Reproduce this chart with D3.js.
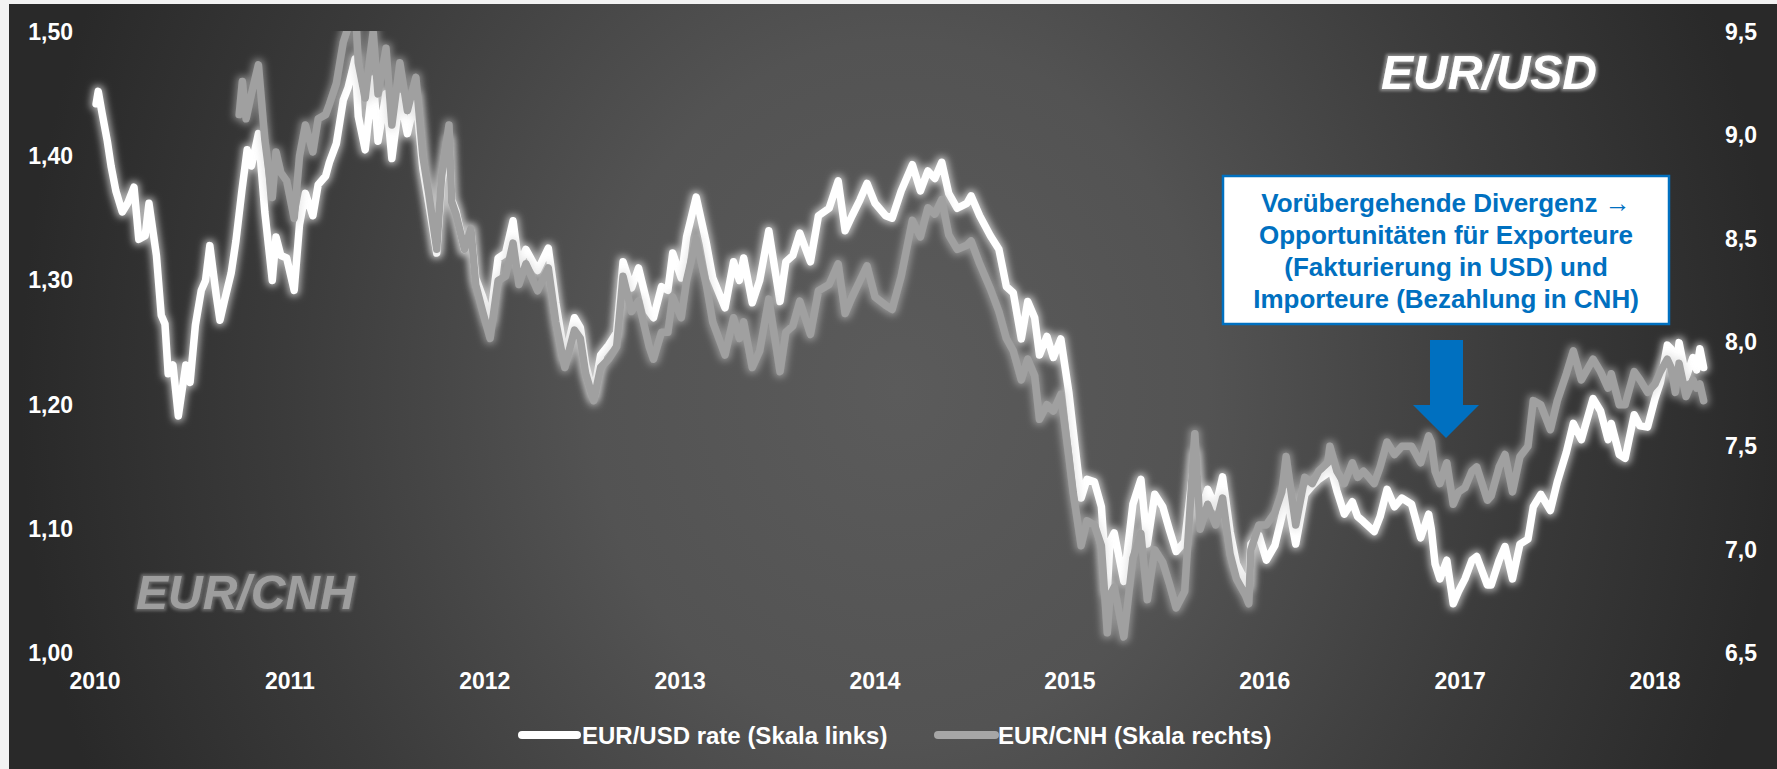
<!DOCTYPE html>
<html><head><meta charset="utf-8">
<script src="https://cdn.jsdelivr.net/npm/d3@7"></script>
<style>
html,body{margin:0;padding:0;background:#f2f2f2;}
svg{display:block;font-family:"Liberation Sans",Arial,sans-serif;}
</style></head>
<body>
<svg id="c" width="1777" height="769"></svg>
<script>
// ---------- DATA ----------
const years = [2010,2011,2012,2013,2014,2015,2016,2017,2018];
const leftTicks = [1.00,1.10,1.20,1.30,1.40,1.50];
const rightTicks = [6.5,7.0,7.5,8.0,8.5,9.0,9.5];
const seriesNames = ["EUR/USD rate (Skala links)","EUR/CNH (Skala rechts)"];
const annotationLines = ["Vorübergehende Divergenz →","Opportunitäten für Exporteure","(Fakturierung in USD) und","Importeure (Bezahlung in CNH)"];

const eurUsd = [
["2010-01-04",1.442],["2010-01-08",1.452],["2010-01-15",1.435],["2010-01-25",1.412],["2010-02-01",1.392],["2010-02-10",1.372],["2010-02-22",1.355],["2010-03-04",1.362],["2010-03-16",1.375],["2010-03-25",1.333],["2010-04-06",1.336],["2010-04-13",1.362],["2010-04-27",1.320],["2010-05-06",1.272],["2010-05-13",1.265],["2010-05-19",1.225],["2010-05-28",1.232],["2010-06-07",1.191],["2010-06-21",1.232],["2010-06-29",1.218],["2010-07-09",1.264],["2010-07-20",1.292],["2010-07-28",1.300],["2010-08-05",1.328],["2010-08-17",1.288],["2010-08-24",1.268],["2010-09-01",1.283],["2010-09-14",1.306],["2010-09-23",1.332],["2010-10-04",1.372],["2010-10-14",1.405],["2010-10-22",1.392],["2010-11-04",1.418],["2010-11-16",1.355],["2010-11-30",1.300],["2010-12-07",1.335],["2010-12-16",1.320],["2010-12-27",1.318],
["2011-01-10",1.292],["2011-01-20",1.345],["2011-01-31",1.370],["2011-02-14",1.352],["2011-02-24",1.377],["2011-03-10",1.384],["2011-03-17",1.395],["2011-03-30",1.410],["2011-04-12",1.445],["2011-04-21",1.455],["2011-05-04",1.478],["2011-05-10",1.432],["2011-05-23",1.405],["2011-06-01",1.440],["2011-06-07",1.462],["2011-06-16",1.412],["2011-07-01",1.450],["2011-07-12",1.398],["2011-07-27",1.448],["2011-08-10",1.418],["2011-08-26",1.448],["2011-09-08",1.390],["2011-09-19",1.362],["2011-10-04",1.322],["2011-10-13",1.378],["2011-10-27",1.412],["2011-11-01",1.365],["2011-11-09",1.356],["2011-11-25",1.325],["2011-12-07",1.340],["2011-12-16",1.302],["2011-12-29",1.287],
["2012-01-12",1.268],["2012-01-27",1.318],["2012-02-10",1.322],["2012-02-24",1.348],["2012-03-06",1.312],["2012-03-19",1.325],["2012-04-10",1.308],["2012-04-30",1.326],["2012-05-14",1.282],["2012-05-31",1.238],["2012-06-18",1.270],["2012-06-29",1.262],["2012-07-09",1.232],["2012-07-24",1.208],["2012-08-06",1.240],["2012-08-21",1.248],["2012-09-05",1.258],["2012-09-17",1.315],["2012-10-03",1.294],["2012-10-16",1.310],["2012-11-05",1.275],["2012-11-13",1.270],["2012-11-28",1.295],["2012-12-10",1.292],["2012-12-19",1.322],
["2013-01-04",1.302],["2013-01-14",1.335],["2013-02-01",1.367],["2013-02-20",1.330],["2013-03-04",1.302],["2013-03-27",1.278],["2013-04-12",1.315],["2013-04-23",1.300],["2013-05-01",1.318],["2013-05-17",1.282],["2013-05-31",1.300],["2013-06-17",1.340],["2013-07-08",1.283],["2013-07-19",1.315],["2013-08-01",1.320],["2013-08-14",1.338],["2013-09-03",1.315],["2013-09-18",1.352],["2013-10-08",1.358],["2013-10-25",1.380],["2013-11-07",1.340],["2013-11-20",1.352],["2013-12-05",1.365],["2013-12-18",1.378],
["2014-01-02",1.362],["2014-01-22",1.352],["2014-02-03",1.350],["2014-02-20",1.372],["2014-03-13",1.393],["2014-03-28",1.372],["2014-04-11",1.388],["2014-04-24",1.382],["2014-05-07",1.395],["2014-05-20",1.370],["2014-06-05",1.358],["2014-06-23",1.362],["2014-07-01",1.368],["2014-07-17",1.352],["2014-08-06",1.336],["2014-08-22",1.325],["2014-09-05",1.295],["2014-09-18",1.290],["2014-10-03",1.253],["2014-10-15",1.283],["2014-10-28",1.270],["2014-11-06",1.240],["2014-11-20",1.255],["2014-12-02",1.238],["2014-12-16",1.253],["2014-12-31",1.210],
["2015-01-08",1.180],["2015-01-23",1.125],["2015-02-03",1.140],["2015-02-17",1.138],["2015-03-02",1.118],["2015-03-13",1.050],["2015-03-18",1.090],["2015-03-26",1.097],["2015-04-13",1.058],["2015-04-30",1.120],["2015-05-15",1.140],["2015-05-27",1.088],["2015-06-10",1.128],["2015-06-25",1.118],["2015-07-07",1.100],["2015-07-20",1.082],["2015-08-05",1.090],["2015-08-24",1.160],["2015-09-03",1.112],["2015-09-17",1.132],["2015-10-02",1.118],["2015-10-15",1.142],["2015-10-29",1.098],["2015-11-10",1.072],["2015-11-27",1.058],["2015-12-03",1.055],["2015-12-07",1.088],["2015-12-22",1.095],
["2016-01-05",1.075],["2016-01-21",1.087],["2016-02-03",1.110],["2016-02-11",1.130],["2016-02-29",1.088],["2016-03-17",1.128],["2016-03-31",1.135],["2016-04-12",1.140],["2016-04-29",1.145],["2016-05-03",1.152],["2016-05-16",1.131],["2016-05-30",1.112],["2016-06-14",1.122],["2016-06-24",1.110],["2016-07-05",1.106],["2016-07-25",1.098],["2016-08-05",1.110],["2016-08-18",1.132],["2016-09-01",1.118],["2016-09-15",1.125],["2016-10-03",1.120],["2016-10-20",1.093],["2016-11-04",1.112],["2016-11-09",1.100],["2016-11-16",1.072],["2016-11-25",1.060],["2016-12-08",1.075],["2016-12-20",1.040],["2016-12-30",1.050],
["2017-01-11",1.060],["2017-01-24",1.075],["2017-02-02",1.078],["2017-02-22",1.055],["2017-03-01",1.055],["2017-03-16",1.075],["2017-03-27",1.086],["2017-04-10",1.060],["2017-04-24",1.088],["2017-05-09",1.092],["2017-05-19",1.118],["2017-06-02",1.128],["2017-06-20",1.115],["2017-07-03",1.138],["2017-07-20",1.162],["2017-08-02",1.185],["2017-08-17",1.172],["2017-09-08",1.205],["2017-09-22",1.195],["2017-10-06",1.172],["2017-10-12",1.185],["2017-10-27",1.160],["2017-11-07",1.157],["2017-11-24",1.192],["2017-12-05",1.183],["2017-12-19",1.182],
["2018-01-02",1.205],["2018-01-12",1.218],["2018-01-25",1.248],["2018-02-01",1.245],["2018-02-09",1.225],["2018-02-16",1.250],["2018-03-01",1.222],["2018-03-14",1.238],["2018-03-21",1.228],["2018-03-27",1.245],["2018-04-03",1.230]
];

const eurCnh = [
["2010-09-29",9.10],["2010-10-05",9.26],["2010-10-12",9.08],["2010-10-22",9.20],["2010-11-04",9.34],["2010-11-16",8.98],["2010-11-30",8.70],["2010-12-07",8.92],["2010-12-16",8.82],["2010-12-27",8.78],
["2011-01-10",8.60],["2011-01-20",8.90],["2011-01-31",9.05],["2011-02-14",8.92],["2011-02-24",9.08],["2011-03-10",9.10],["2011-03-17",9.15],["2011-03-30",9.25],["2011-04-12",9.45],["2011-04-21",9.52],["2011-05-04",9.65],["2011-05-10",9.35],["2011-05-23",9.18],["2011-06-01",9.38],["2011-06-07",9.50],["2011-06-16",9.20],["2011-07-01",9.42],["2011-07-12",9.05],["2011-07-27",9.35],["2011-08-10",9.12],["2011-08-26",9.28],["2011-09-08",8.90],["2011-09-19",8.72],["2011-10-04",8.45],["2011-10-13",8.80],["2011-10-27",9.05],["2011-11-01",8.68],["2011-11-09",8.62],["2011-11-25",8.45],["2011-12-07",8.55],["2011-12-16",8.28],["2011-12-29",8.15],
["2012-01-12",8.02],["2012-01-27",8.30],["2012-02-10",8.32],["2012-02-24",8.48],["2012-03-06",8.28],["2012-03-19",8.38],["2012-04-10",8.25],["2012-04-30",8.36],["2012-05-14",8.10],["2012-05-31",7.88],["2012-06-18",8.06],["2012-06-29",8.02],["2012-07-09",7.85],["2012-07-24",7.72],["2012-08-06",7.88],["2012-08-21",7.92],["2012-09-05",7.98],["2012-09-17",8.32],["2012-10-03",8.15],["2012-10-16",8.20],["2012-11-05",7.98],["2012-11-13",7.92],["2012-11-28",8.05],["2012-12-10",8.05],["2012-12-19",8.22],
["2013-01-04",8.12],["2013-01-14",8.30],["2013-02-01",8.50],["2013-02-20",8.28],["2013-03-04",8.10],["2013-03-27",7.94],["2013-04-12",8.12],["2013-04-23",8.02],["2013-05-01",8.10],["2013-05-17",7.88],["2013-05-31",7.96],["2013-06-17",8.21],["2013-07-08",7.86],["2013-07-19",8.05],["2013-08-01",8.08],["2013-08-14",8.20],["2013-09-03",8.04],["2013-09-18",8.25],["2013-10-08",8.28],["2013-10-25",8.38],["2013-11-07",8.14],["2013-11-20",8.22],["2013-12-05",8.30],["2013-12-18",8.37],
["2014-01-02",8.22],["2014-01-22",8.18],["2014-02-03",8.16],["2014-02-20",8.32],["2014-03-13",8.59],["2014-03-28",8.51],["2014-04-11",8.65],["2014-04-24",8.62],["2014-05-07",8.69],["2014-05-20",8.52],["2014-06-05",8.45],["2014-06-23",8.47],["2014-07-01",8.49],["2014-07-17",8.38],["2014-08-06",8.26],["2014-08-22",8.15],["2014-09-05",8.02],["2014-09-18",7.96],["2014-10-03",7.82],["2014-10-15",7.92],["2014-10-28",7.84],["2014-11-06",7.63],["2014-11-20",7.70],["2014-12-02",7.67],["2014-12-16",7.75],["2014-12-31",7.45],
["2015-01-08",7.28],["2015-01-23",7.02],["2015-02-03",7.14],["2015-02-17",7.12],["2015-03-02",7.02],["2015-03-13",6.60],["2015-03-18",6.78],["2015-03-26",6.82],["2015-04-13",6.58],["2015-04-30",6.96],["2015-05-15",7.08],["2015-05-27",6.76],["2015-06-10",7.00],["2015-06-25",6.94],["2015-07-07",6.84],["2015-07-20",6.72],["2015-08-05",6.80],["2015-08-24",7.56],["2015-09-03",7.10],["2015-09-17",7.22],["2015-10-02",7.12],["2015-10-15",7.25],["2015-10-29",6.98],["2015-11-10",6.86],["2015-11-27",6.78],["2015-12-03",6.74],["2015-12-07",7.00],["2015-12-22",7.12],
["2016-01-05",7.12],["2016-01-21",7.18],["2016-02-03",7.28],["2016-02-11",7.45],["2016-02-29",7.12],["2016-03-17",7.35],["2016-03-31",7.32],["2016-04-12",7.38],["2016-04-29",7.42],["2016-05-03",7.50],["2016-05-16",7.38],["2016-05-30",7.32],["2016-06-14",7.42],["2016-06-24",7.35],["2016-07-05",7.38],["2016-07-25",7.32],["2016-08-05",7.40],["2016-08-18",7.52],["2016-09-01",7.46],["2016-09-15",7.50],["2016-10-03",7.50],["2016-10-20",7.42],["2016-11-04",7.55],["2016-11-09",7.52],["2016-11-16",7.38],["2016-11-25",7.32],["2016-12-08",7.42],["2016-12-20",7.22],["2016-12-30",7.28],
["2017-01-11",7.30],["2017-01-24",7.38],["2017-02-02",7.40],["2017-02-22",7.24],["2017-03-01",7.26],["2017-03-16",7.40],["2017-03-27",7.46],["2017-04-10",7.28],["2017-04-24",7.45],["2017-05-09",7.50],["2017-05-19",7.72],["2017-06-02",7.70],["2017-06-20",7.58],["2017-07-03",7.72],["2017-07-20",7.85],["2017-08-02",7.96],["2017-08-17",7.82],["2017-09-08",7.92],["2017-09-22",7.86],["2017-10-06",7.78],["2017-10-12",7.85],["2017-10-27",7.70],["2017-11-07",7.70],["2017-11-24",7.86],["2017-12-05",7.82],["2017-12-19",7.76],
["2018-01-02",7.80],["2018-01-12",7.86],["2018-01-25",7.92],["2018-02-01",7.88],["2018-02-09",7.76],["2018-02-16",7.90],["2018-03-01",7.74],["2018-03-14",7.82],["2018-03-21",7.78],["2018-03-27",7.80],["2018-04-03",7.72]
];

// ---------- CHART ----------
const svg = d3.select("#c");
const parse = d3.timeParse("%Y-%m-%d");
const defs = svg.append("defs");

const bg = defs.append("radialGradient").attr("id","bg")
  .attr("gradientUnits","userSpaceOnUse").attr("cx",0).attr("cy",0).attr("r",1)
  .attr("gradientTransform","translate(900,390) scale(880,1000)");
[[0,"#5b5b5b"],[0.35,"#535353"],[0.7,"#3b3b3b"],[1,"#292929"]].forEach(s=>
  bg.append("stop").attr("offset",s[0]).attr("stop-color",s[1]));

function glow(id, color, op, sd, dil){
  const f = defs.append("filter").attr("id",id).attr("x","-10%").attr("y","-10%").attr("width","120%").attr("height","120%");
  let src = "SourceAlpha";
  if(dil){ f.append("feMorphology").attr("in","SourceAlpha").attr("operator","dilate").attr("radius",dil).attr("result","d"); src="d"; }
  f.append("feGaussianBlur").attr("in",src).attr("stdDeviation",sd).attr("result","b");
  f.append("feFlood").attr("flood-color",color).attr("flood-opacity",op).attr("result","c");
  f.append("feComposite").attr("in","c").attr("in2","b").attr("operator","in").attr("result","g");
  const m = f.append("feMerge");
  m.append("feMergeNode").attr("in","g");
  m.append("feMergeNode").attr("in","SourceGraphic");
}
glow("gW","#ffffff",0.6,3.5,2);
glow("gG","#d0d0d0",0.5,3.5,2);
glow("tW","#8c8c8c",1,1.6,2);
glow("tG","#6a6a6a",1,1.6,2);

defs.append("clipPath").attr("id","plot").append("rect")
  .attr("x",60).attr("y",31).attr("width",1680).attr("height",680);

svg.append("rect").attr("x",0).attr("y",0).attr("width",1777).attr("height",769).attr("fill","#f2f2f2");
svg.append("rect").attr("x",9).attr("y",4).attr("width",1768).attr("height",765).attr("fill","url(#bg)");

const x = d3.scaleTime().domain([new Date(2010,0,1), new Date(2018,0,1)]).range([94.5,1654.5]);
const yL = d3.scaleLinear().domain([1.0,1.5]).range([653.5,31.7]);
const yR = d3.scaleLinear().domain([6.5,9.5]).range([653.5,31.7]);

const fontAxis = g => g.selectAll("text").attr("fill","#ffffff").attr("font-size",23).attr("font-weight","bold")
  .attr("font-family","'Liberation Sans',Arial,sans-serif");

svg.append("g").attr("transform","translate(76,0)")
  .call(d3.axisLeft(yL).tickValues(leftTicks).tickSize(0).tickPadding(3).tickFormat(d=>d.toFixed(2).replace(".",",")))
  .call(g=>g.select(".domain").remove()).call(fontAxis);
svg.append("g").attr("transform","translate(1722,0)")
  .call(d3.axisRight(yR).tickValues(rightTicks).tickSize(0).tickPadding(3).tickFormat(d=>d.toFixed(1).replace(".",",")))
  .call(g=>g.select(".domain").remove()).call(fontAxis);
svg.append("g").attr("transform","translate(0,670)")
  .call(d3.axisBottom(x).tickValues(years.map(y=>new Date(y,0,1))).tickSize(0).tickPadding(3).tickFormat(d3.timeFormat("%Y")))
  .call(g=>g.select(".domain").remove()).call(fontAxis);

// background labels
svg.append("text").attr("x",136).attr("y",609).attr("font-size",48).attr("font-weight","bold")
  .attr("font-style","italic").attr("fill","#9e9e9e").attr("filter","url(#tG)").text("EUR/CNH");
svg.append("text").attr("x",1381).attr("y",89).attr("font-size",48).attr("font-weight","bold")
  .attr("font-style","italic").attr("fill","#ffffff").attr("filter","url(#tW)").text("EUR/USD");

// lines
const plot = svg.append("g").attr("clip-path","url(#plot)");
const lineL = d3.line().x(d=>x(parse(d[0]))).y(d=>yL(d[1]));
const lineR = d3.line().x(d=>x(parse(d[0]))).y(d=>yR(d[1]));
plot.append("path").datum(eurUsd).attr("d",lineL).attr("fill","none").attr("stroke","#ffffff")
  .attr("stroke-width",7.5).attr("stroke-linejoin","round").attr("stroke-linecap","round").attr("filter","url(#gW)");
plot.append("path").datum(eurCnh).attr("d",lineR).attr("fill","none").attr("stroke","#a0a0a0")
  .attr("stroke-width",7.5).attr("stroke-linejoin","round").attr("stroke-linecap","round").attr("filter","url(#gG)");

// annotation
svg.append("rect").attr("x",1223).attr("y",176).attr("width",446).attr("height",148)
  .attr("fill","#ffffff").attr("stroke","#0070c0").attr("stroke-width",2.5);
svg.append("g").selectAll("text").data(annotationLines).join("text")
  .attr("x",1446).attr("y",(d,i)=>212+i*32).attr("text-anchor","middle")
  .attr("font-size",26).attr("font-weight","bold").attr("fill","#0070c0").text(d=>d);
svg.append("path").attr("d","M1430,340H1463V405H1479L1446,438L1413,405H1430Z").attr("fill","#0070c0");

// legend
const leg = [{x1:522,x2:577,tx:582,c:"#ffffff"},{x1:938,x2:995,tx:998,c:"#a6a6a6"}];
const lg = svg.append("g");
lg.selectAll("line").data(leg).join("line").attr("x1",d=>d.x1).attr("x2",d=>d.x2)
  .attr("y1",735).attr("y2",735).attr("stroke",d=>d.c).attr("stroke-width",8).attr("stroke-linecap","round");
lg.selectAll("text").data(leg).join("text").attr("x",d=>d.tx).attr("y",744)
  .attr("font-size",24).attr("font-weight","bold").attr("fill","#ffffff").text((d,i)=>seriesNames[i]);
</script>
</body></html>
